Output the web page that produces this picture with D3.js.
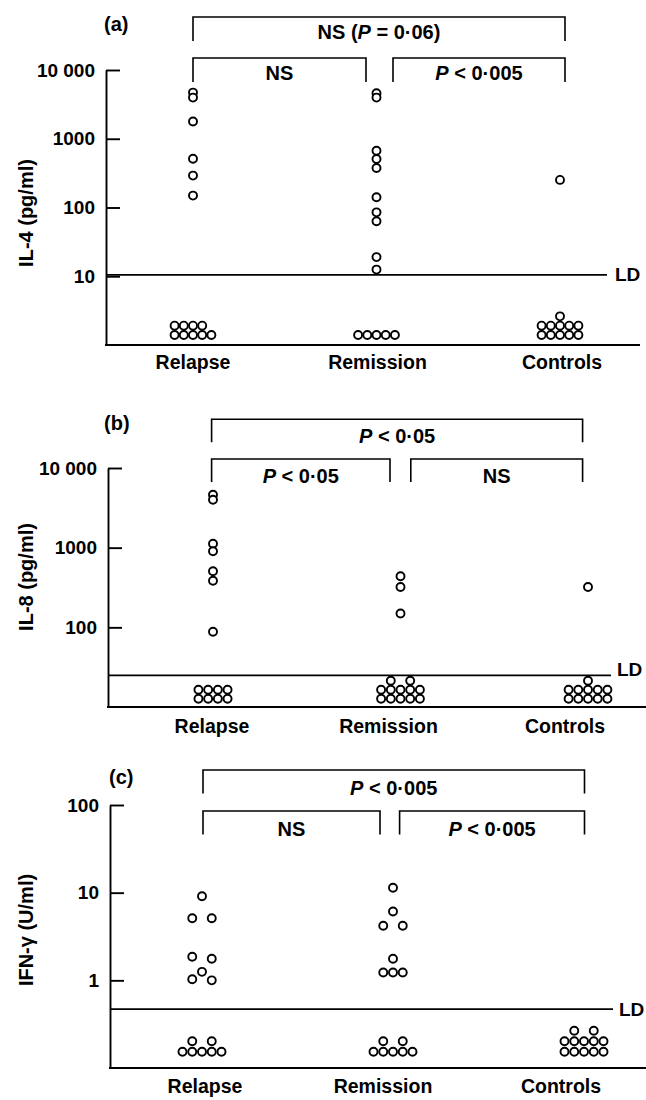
<!DOCTYPE html>
<html>
<head>
<meta charset="utf-8">
<script src="https://cdn.jsdelivr.net/npm/d3@7"></script>
<style>
  body { margin: 0; background: #fff; }
  svg text {
    font-family: "Liberation Sans", Arial, Helvetica, sans-serif;
    font-weight: bold;
    fill: #000;
  }
  .tick text { font-size: 19px; }
  .group-label { font-size: 19.5px; }
  .test-label, .y-label, .panel-letter { font-size: 20px; }
  .ld-label { font-size: 19px; }
</style>
</head>
<body>
<svg id="chart" width="646" height="1100"></svg>
<script>
// Groups on the x axis
const groups = ["Relapse", "Remission", "Controls"];

// (a) IL-4 (pg/ml): detectable values, and how many were below the limit
const il4Relapse = [4690, 3970, 1780, 513, 291, 149];
const il4Remission = [4590, 3970, 670, 508, 376, 141, 85, 63, 19, 12.5];
const il4Controls = [252];
const il4Undetectable = [9, 5, 11];
const il4Limit = 10.5;
const il4Ticks = [10, 100, 1000, 10000];
const il4TickLabels = ["10", "100", "1000", "10 000"];
const il4Tests = ["NS (P = 0·06)", "NS", "P < 0·005"];

// (b) IL-8 (pg/ml)
const il8Relapse = [4620, 4000, 1120, 900, 505, 385, 88];
const il8Remission = [437, 321, 149];
const il8Controls = [321];
const il8Undetectable = [8, 12, 11];
const il8Limit = 25;
const il8Ticks = [100, 1000, 10000];
const il8TickLabels = ["100", "1000", "10 000"];
const il8Tests = ["P < 0·05", "P < 0·05", "NS"];

// (c) IFN-γ (U/ml)
const ifnRelapse = [9.1, 5.1, 5.1, 1.86, 1.76, 1.25, 1.03, 1.0];
const ifnRemission = [11.4, 6.1, 4.2, 4.2, 1.76, 1.23, 1.23, 1.23];
const ifnControls = [];
const ifnUndetectable = [7, 7, 12];
const ifnLimit = 0.47;
const ifnTicks = [1, 10, 100];
const ifnTickLabels = ["1", "10", "100"];
const ifnTests = ["P < 0·005", "NS", "P < 0·005"];

// Which pairs each test compares: overall first, then the two neighbours
const comparisons = [
  { from: 0, to: 2, level: 0 },
  { from: 0, to: 1, level: 1 },
  { from: 1, to: 2, level: 1 },
];

// Panel layouts
const panels = [
  {
    letter: "(a)", yTitle: "IL-4 (pg/ml)",
    values: [il4Relapse, il4Remission, il4Controls],
    undetectable: il4Undetectable, limit: il4Limit,
    ticks: il4Ticks, tickLabels: il4TickLabels, tests: il4Tests,
    domain: [1, 10000], yRange: [345, 70], axisX: 106,
    xRange: [193, 560], labelRange: [193, 562], labelY: 369, axisEnd: 640,
    ldEnd: 607, ldX: 615, ldDy: "0.35em",
    ndValue: 1.4, ndWidth: [5, 5, 5], rowStep: 9.3, colStep: 9.2,
    spread: false,
    bx: [193, 366, 393, 565], bTop: 17, bGap: 41, leg: 24, textDrop: 22,
    letterX: 104, letterY: 31, yTitleY: 213,
  },
  {
    letter: "(b)", yTitle: "IL-8 (pg/ml)",
    values: [il8Relapse, il8Remission, il8Controls],
    undetectable: il8Undetectable, limit: il8Limit,
    ticks: il8Ticks, tickLabels: il8TickLabels, tests: il8Tests,
    domain: [10, 10000], yRange: [707, 468], axisX: 108,
    xRange: [213, 588], labelRange: [212, 565], labelY: 733, axisEnd: 646,
    ldEnd: 611, ldX: 617, ldDy: "0.05em",
    ndValue: 12.7, ndWidth: [4, 5, 5], rowStep: 9, colStep: 9.7,
    spread: false,
    bx: [211.6, 390, 410.8, 582.6], bTop: 419.3, bGap: 39.7, leg: 23, textDrop: 24,
    letterX: 104, letterY: 430, yTitleY: 577,
  },
  {
    letter: "(c)", yTitle: "IFN-γ (U/ml)",
    values: [ifnRelapse, ifnRemission, ifnControls],
    undetectable: ifnUndetectable, limit: ifnLimit,
    ticks: ifnTicks, tickLabels: ifnTickLabels, tests: ifnTests,
    domain: [0.1, 100], yRange: [1068, 805], axisX: 110,
    xRange: [202, 584], labelRange: [205, 561], labelY: 1093, axisEnd: 646,
    ldEnd: 613, ldX: 619, ldDy: "0.35em",
    ndValue: 0.153, ndWidth: [5, 5, 5], rowStep: 10.5, colStep: 9.75,
    spread: true,
    bx: [203, 380, 399.6, 584.5], bTop: 770, bGap: 41, leg: 23.5, textDrop: 25,
    letterX: 109, letterY: 784, yTitleY: 930,
  },
];

const svg = d3.select("#chart");
const R = 4;

// Slots for the values below the limit: full rows, then the rest on top
function stackSlots(n, width) {
  const slots = [];
  let left = n;
  let row = 0;
  while (left > 0) {
    const k = Math.min(width, left);
    let cols;
    if (k === width) cols = d3.range(width);
    else if (k === 1) cols = [(width - 1) / 2];
    else if (k === 2 && width === 5) cols = [1, 3];
    else cols = d3.range(k);
    cols.forEach((c) => slots.push({ col: c - (width - 1) / 2, row: row }));
    left -= k;
    row++;
  }
  return slots;
}

// Puts equal-looking values side by side (panel c style)
function spreadSlots(vals, y) {
  const sorted = vals.slice().sort((a, b) => b - a);
  const rows = [];
  sorted.forEach((v) => {
    const last = rows[rows.length - 1];
    if (last && Math.abs(y(last[0]) - y(v)) < 5) last.push(v);
    else rows.push([v]);
  });
  const out = [];
  rows.forEach((r) => {
    const cols = r.length === 2 ? [-1, 1] : r.map((_, i) => i - (r.length - 1) / 2);
    r.forEach((v, i) => out.push({ v: v, col: cols[i] }));
  });
  return out;
}

function italicP(sel, str) {
  str.split(/(P)/).forEach((part) => {
    if (part === "") return;
    sel.append("tspan")
      .style("font-style", part === "P" ? "italic" : "normal")
      .text(part);
  });
}

panels.forEach((p) => {
  const g = svg.append("g");
  const x = d3.scalePoint().domain(groups).range(p.xRange);
  const xLabel = d3.scalePoint().domain(groups).range(p.labelRange);
  const y = d3.scaleLog().domain(p.domain).range(p.yRange);

  // y axis with inward ticks
  const yAxis = d3.axisLeft(y)
    .tickValues(p.ticks)
    .tickFormat((d, i) => p.tickLabels[i])
    .tickSizeInner(-14)
    .tickSizeOuter(0)
    .tickPadding(11);

  g.append("g")
    .attr("transform", "translate(" + p.axisX + ",0)")
    .call(yAxis)
    .attr("font-size", null)
    .attr("font-family", null)
    .call((a) => a.selectAll("path, line").attr("stroke", "#000").attr("stroke-width", 1.9));

  // x axis line
  g.append("line")
    .attr("x1", p.axisX - 1).attr("x2", p.axisEnd)
    .attr("y1", p.yRange[0]).attr("y2", p.yRange[0])
    .attr("stroke", "#000").attr("stroke-width", 1.9);

  // group labels
  g.selectAll(".group-label")
    .data(groups)
    .enter()
    .append("text")
    .attr("class", "group-label")
    .attr("x", (d) => xLabel(d))
    .attr("y", p.labelY)
    .attr("text-anchor", "middle")
    .text((d) => d);

  // limit of detection
  g.append("line")
    .attr("x1", p.axisX).attr("x2", p.ldEnd)
    .attr("y1", y(p.limit)).attr("y2", y(p.limit))
    .attr("stroke", "#000").attr("stroke-width", 1.7);
  g.append("text")
    .attr("class", "ld-label")
    .attr("x", p.ldX)
    .attr("y", y(p.limit))
    .attr("dy", p.ldDy)
    .text("LD");

  // detectable values
  const pts = [];
  groups.forEach((gr, gi) => {
    if (p.spread) {
      spreadSlots(p.values[gi], y).forEach((s) =>
        pts.push({ cx: x(gr) + s.col * p.colStep, cy: y(s.v) }));
    } else {
      p.values[gi].forEach((v) => pts.push({ cx: x(gr), cy: y(v) }));
    }
    // values below the limit, stacked
    stackSlots(p.undetectable[gi], p.ndWidth[gi]).forEach((s) =>
      pts.push({ cx: x(gr) + s.col * p.colStep, cy: y(p.ndValue) - s.row * p.rowStep }));
  });

  g.selectAll(".dot")
    .data(pts)
    .enter()
    .append("circle")
    .attr("class", "dot")
    .attr("r", R)
    .attr("cx", (d) => d.cx)
    .attr("cy", (d) => d.cy)
    .attr("fill", "#fff")
    .attr("stroke", "#000")
    .attr("stroke-width", 1.9);

  // significance brackets
  const ends = [[p.bx[0], p.bx[3]], [p.bx[0], p.bx[1]], [p.bx[2], p.bx[3]]];
  comparisons.forEach((c, i) => {
    const [x1, x2] = ends[i];
    const top = p.bTop + c.level * p.bGap;
    g.append("path")
      .attr("d", "M" + x1 + "," + (top + p.leg) + "V" + top + "H" + x2 + "V" + (top + p.leg))
      .attr("fill", "none")
      .attr("stroke", "#000")
      .attr("stroke-width", 1.6);
    const t = g.append("text")
      .attr("class", "test-label")
      .attr("x", (x1 + x2) / 2)
      .attr("y", top + p.textDrop)
      .attr("text-anchor", "middle");
    italicP(t, p.tests[i]);
  });

  // panel letter
  g.append("text")
    .attr("class", "panel-letter")
    .attr("x", p.letterX)
    .attr("y", p.letterY)
    .text(p.letter);

  // y title
  g.append("text")
    .attr("class", "y-label")
    .attr("transform", "translate(33," + p.yTitleY + ") rotate(-90)")
    .attr("text-anchor", "middle")
    .text(p.yTitle);
});
</script>
</body>
</html>
